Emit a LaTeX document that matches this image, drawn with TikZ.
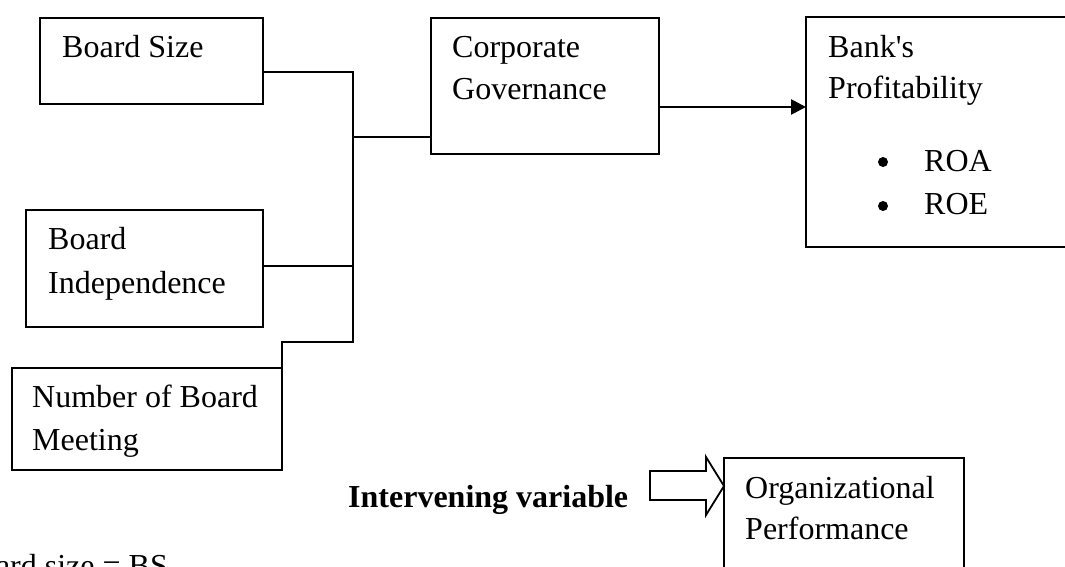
\documentclass[tikz,border=0pt]{standalone}
\usepackage{fontspec}
\setmainfont{Liberation Serif}[Ligatures=TeXOff]
\usetikzlibrary{arrows.meta}
\tikzset{
  box/.style={draw, line width=2pt, inner sep=0pt, outer sep=0pt, minimum width=#1},
  txt/.style={anchor=base west, inner sep=0pt, font=\fontsize{32}{42}\selectfont},
  conn/.style={line width=1.4pt},
  dot/.style={circle, fill, inner sep=0pt, minimum size=10pt},
}
\begin{document}
\begin{tikzpicture}[x=1pt, y=-1pt]
\useasboundingbox (0,0) rectangle (1065,567);
\clip (0,0) rectangle (1065,567);
\fill[white] (0,0) rectangle (1065,567);
% boxes
\node[box=223pt, minimum height=86pt] (bs) at (151.5,61) {};
\node[box=237pt, minimum height=117pt] (bi) at (144.5,268.5) {};
\node[box=270pt, minimum height=102pt] (nb) at (147,419) {};
\node[box=228pt, minimum height=136pt] (cg) at (545,86) {};
\node[box=294pt, minimum height=230pt] (bp) at (953,132) {};
\node[box=240pt, minimum height=142pt] (op) at (844,529) {};
% texts
\node[txt] (tbs) at (62,58) {Board Size};
\node[txt] (tbi1) at (48,249) {Board};
\node[txt] (tbi2) at (48,293) {Independence};
\node[txt] (tnb1) at (32,407) {Number of Board};
\node[txt] (tnb2) at (32,450) {Meeting};
\node[txt] (tcg1) at (452,58) {Corporate};
\node[txt] (tcg2) at (452,100) {Governance};
\node[txt] (tbp1) at (828,58) {Bank's};
\node[txt] (tbp2) at (828,99) {Profitability};
\node[dot] (d1) at (883,162) {};
\node[dot] (d2) at (883,206) {};
\node[txt] (roa) at (924,171) {ROA};
\node[txt] (roe) at (924,214) {ROE};
\node[txt] (top1) at (745,498) {Organizational};
\node[txt] (top2) at (745,539) {Performance};
\node[txt, font=\fontsize{32}{42}\selectfont\bfseries] (iv) at (348,507) {Intervening variable};
\node[txt, anchor=base east] (note) at (168,576) {Board size = BS};
% connectors
\coordinate (j1) at (353,72);
\coordinate (j2) at (353,137);
\coordinate (j3) at (353,266);
\coordinate (j4) at (353,342);
\coordinate (j5) at (282,342);
\draw[conn] ([yshift=-11pt]bs.east) -- (j1) -- (j4) -- (j5) -- (nb.north east);
\draw[conn] ([yshift=2.5pt]bi.east) -- (j3);
\draw[conn] (j2) -- ([yshift=-51pt]cg.west);
\draw[line width=2.7pt, -{Triangle[length=15pt, width=15pt]}] ([yshift=-21pt]cg.east) -- ([yshift=25pt]bp.west);
% block arrow
\coordinate (tip) at ([yshift=43pt]op.west);
\draw[line width=1.8pt, line join=miter] (tip) -- ++(-18,-29) -- ++(0,14) -- ++(-56,0) -- ++(0,29) -- ++(56,0) -- ++(0,15) -- cycle;
\end{tikzpicture}
\end{document}
